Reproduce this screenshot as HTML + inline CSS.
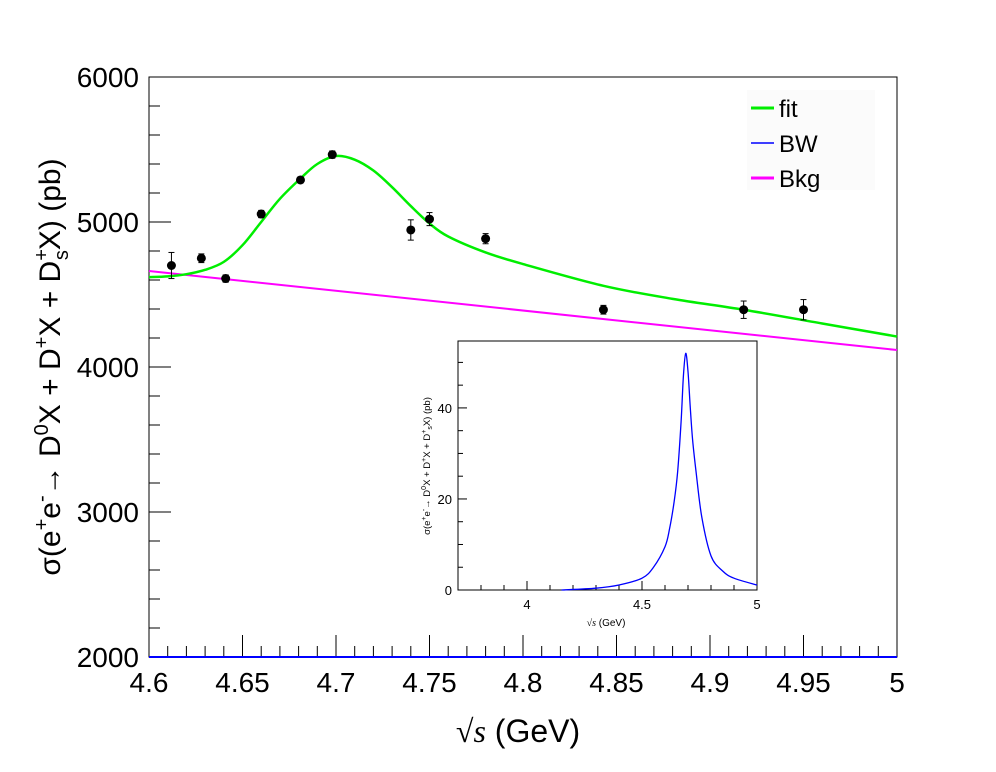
<!DOCTYPE html>
<html><head><meta charset="utf-8"><style>
html,body{margin:0;padding:0;background:#fff;}
svg{display:block;font-family:"Liberation Sans",sans-serif;}
</style></head><body>
<svg id="c" width="996" height="772" viewBox="0 0 996 772"></svg>
<script>
// main data
const ptX=[4.612,4.628,4.641,4.660,4.681,4.698,4.740,4.750,4.780,4.843,4.918,4.950];
const ptY=[4700,4750,4610,5055,5290,5465,4945,5020,4885,4395,4395,4395];
const ptErr=[90,30,25,25,20,25,70,45,35,30,60,70];
const fitX=[4.60,4.61,4.62,4.63,4.64,4.65,4.66,4.67,4.681,4.69,4.70,4.71,4.72,4.73,4.74,4.75,4.76,4.78,4.80,4.843,4.88,4.918,4.96,5.0];
const fitY=[4620,4625,4640,4670,4725,4840,5000,5160,5300,5400,5455,5430,5355,5240,5110,4990,4900,4790,4710,4560,4470,4395,4300,4210];
const bkgX=[4.6,5.0];
const bkgY=[4662,4117];
const bwX=[4.15,4.3,4.4,4.5,4.55,4.6,4.62,4.64,4.655,4.67,4.68,4.69,4.70,4.71,4.72,4.735,4.76,4.8,4.85,4.9,5.0];
const bwY=[0,0.4,1.1,2.6,5,9.5,13.5,19.5,26,37,47,52,48,40,33,26,16,7.5,4.2,2.6,1.1];
const yTicks=[2000,3000,4000,5000,6000];
const xTicks=[4.6,4.65,4.7,4.75,4.8,4.85,4.9,4.95,5.0];
const xTickLabels=["4.6","4.65","4.7","4.75","4.8","4.85","4.9","4.95","5"];
const insetXTicks=[4,4.5,5];
const insetYTicks=[0,20,40];

const svg=document.getElementById('c');
const NS='http://www.w3.org/2000/svg';
function mk(tag,attrs,parent){const e=document.createElementNS(NS,tag);for(const k in attrs)e.setAttribute(k,attrs[k]);(parent||svg).appendChild(e);return e;}
function smooth(pts){
  let d='M'+pts[0][0]+','+pts[0][1];
  for(let i=0;i<pts.length-1;i++){
    const p0=pts[Math.max(0,i-1)],p1=pts[i],p2=pts[i+1],p3=pts[Math.min(pts.length-1,i+2)];
    const c1x=p1[0]+(p2[0]-p0[0])/6,c1y=p1[1]+(p2[1]-p0[1])/6;
    const c2x=p2[0]-(p3[0]-p1[0])/6,c2y=p2[1]-(p3[1]-p1[1])/6;
    d+=' C'+c1x+','+c1y+' '+c2x+','+c2y+' '+p2[0]+','+p2[1];
  }
  return d;
}
const X0=149,X1=897,Y0=657,Y1=77;
const sx=v=>X0+(v-4.6)/(5.0-4.6)*(X1-X0);
const sy=v=>Y0-(v-2000)/(6000-2000)*(Y0-Y1);
const I0=458,I1=757,J0=590,J1=341;
const ix=v=>I0+(v-3.7)/(5.0-3.7)*(I1-I0);
const iy=v=>J0-v*(J0-J1)/54.7;

const frame=mk('rect',{x:X0,y:Y1,width:X1-X0,height:Y0-Y1,fill:'none',stroke:'#000','stroke-width':1});



for(let v=2000;v<=6000;v+=200){
  const major=(v%1000===0);
  const t=mk('line',{x1:X0,x2:X0+(major?22:11),y1:sy(v),y2:sy(v),stroke:'#000'});
  
  
}
yTicks.forEach(v=>{
  const t=mk('text',{x:X0-10,y:sy(v)+10,'text-anchor':'end','font-size':28});
  t.textContent=v;
  
  
});
for(let i=0;i<=40;i++){
  const v=4.6+i*0.01;const major=(i%5===0);
  const t=mk('line',{x1:sx(v),x2:sx(v),y1:Y0,y2:Y0-(major?22:11),stroke:'#000'});
  
  
}
xTicks.forEach((v,i)=>{
  const t=mk('text',{x:sx(v),y:Y0+35,'text-anchor':'middle','font-size':28});
  t.textContent=xTickLabels[i];
  
  
});
const bwMain=mk('line',{x1:X0,x2:X1,y1:Y0,y2:Y0,stroke:'#0000ff','stroke-width':2});



const bk=mk('polyline',{points:bkgX.map((x,i)=>sx(x)+','+sy(bkgY[i])).join(' '),fill:'none',stroke:'#ff00ff','stroke-width':2});


const ft=mk('path',{d:smooth(fitX.map((x,i)=>[sx(x),sy(fitY[i])])),fill:'none',stroke:'#00ee00','stroke-width':2.5});


ptX.forEach((x,i)=>{
  const g=mk('g',{});
  
  
  const cx=sx(x),cy=sy(ptY[i]),e=ptErr[i];
  mk('line',{x1:cx,x2:cx,y1:sy(ptY[i]+e),y2:sy(ptY[i]-e),stroke:'#000'},g);
  mk('line',{x1:cx-3,x2:cx+3,y1:sy(ptY[i]+e),y2:sy(ptY[i]+e),stroke:'#000'},g);
  mk('line',{x1:cx-3,x2:cx+3,y1:sy(ptY[i]-e),y2:sy(ptY[i]-e),stroke:'#000'},g);
  mk('circle',{cx:cx,cy:cy,r:4.5,fill:'#000'},g);
});

const lg=mk('g',{});


mk('rect',{x:747,y:90,width:128,height:100,fill:'#fbfbfb'},lg);
[['fit','#00ee00',3],['BW','#0000ff',1.5],['Bkg','#ff00ff',3]].forEach((d,i)=>{
  const y=108+i*35;
  const e=mk('g',{},lg);
  
  
  mk('line',{x1:751,x2:774,y1:y,y2:y,stroke:d[1],'stroke-width':d[2]},e);
  const t=mk('text',{x:779,y:y+9,'font-size':24},e);t.textContent=d[0];
});

const yt=mk('text',{transform:'translate(60,367) rotate(-90)','text-anchor':'middle','font-size':30});
yt.innerHTML='σ(e<tspan dy="-12" font-size="20">+</tspan><tspan dy="12">e</tspan><tspan dy="-12" font-size="20">-</tspan><tspan dy="12">→ D</tspan><tspan dy="-12" font-size="20">0</tspan><tspan dy="12">X + D</tspan><tspan dy="-12" font-size="20">+</tspan><tspan dy="12">X + D</tspan><tspan dy="-12" font-size="20">+</tspan><tspan dx="-11" dy="20" font-size="20">s</tspan><tspan dy="-8">X) (pb)</tspan>';


const xt=mk('text',{x:518,y:742,'text-anchor':'middle','font-size':32});
xt.innerHTML='<tspan font-family="Liberation Serif" font-style="italic">√s</tspan> (GeV)';



const ins=mk('g',{});


mk('rect',{x:I0,y:J1,width:I1-I0,height:J0-J1,fill:'#fff',stroke:'#000'},ins);
for(let v=0;v<=50;v+=5){
  const t=mk('line',{x1:I0,x2:I0+(v%20===0?9:5),y1:iy(v),y2:iy(v),stroke:'#000'},ins);
  
  
}
insetYTicks.forEach(v=>{
  const t=mk('text',{x:I0-6,y:iy(v)+5,'text-anchor':'end','font-size':13},ins);
  t.textContent=v;
  
  
});
for(let i=0;i<=13;i++){
  const v=3.7+i*0.1;
  const t=mk('line',{x1:ix(v),x2:ix(v),y1:J0,y2:J0-((i-3)%5===0?9:5),stroke:'#000'},ins);
  
  
}
insetXTicks.forEach(v=>{
  const t=mk('text',{x:ix(v),y:J0+19,'text-anchor':'middle','font-size':13},ins);
  t.textContent=v;
  
  
});
const bw=mk('path',{d:smooth(bwX.map((x,i)=>[ix(x),iy(bwY[i])])),fill:'none',stroke:'#0000ff','stroke-width':1.3},ins);


const iyt=mk('text',{transform:'translate(430,466) rotate(-90)','text-anchor':'middle','font-size':9.5},ins);
iyt.innerHTML='σ(e<tspan dy="-4" font-size="7">+</tspan><tspan dy="4">e</tspan><tspan dy="-4" font-size="7">-</tspan><tspan dy="4">→ D</tspan><tspan dy="-4" font-size="7">0</tspan><tspan dy="4">X + D</tspan><tspan dy="-4" font-size="7">+</tspan><tspan dy="4">X + D</tspan><tspan dy="-4" font-size="7">+</tspan><tspan dy="6" font-size="7">s</tspan><tspan dy="-2">X) (pb)</tspan>';


const ixt=mk('text',{x:606,y:626,'text-anchor':'middle','font-size':10},ins);
ixt.innerHTML='<tspan font-family="Liberation Serif" font-style="italic">√s</tspan> (GeV)';


</script>
</body></html>
